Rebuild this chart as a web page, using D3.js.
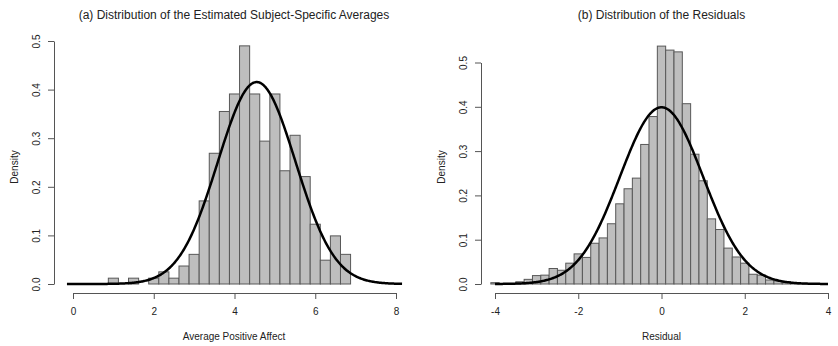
<!DOCTYPE html>
<html>
<head>
<meta charset="utf-8">
<script src="https://cdn.jsdelivr.net/npm/d3@7"></script>
<style>
  html, body { margin: 0; padding: 0; background: #fff; }
  svg { display: block; font-family: "Liberation Sans", Arial, Helvetica, sans-serif; }
</style>
</head>
<body>
<svg id="chart" width="838" height="346"></svg>
<script>
// ---------- Data ----------
// Panel (a): histogram of subject-specific averages
const leftBreaks = [0.875, 1.125, 1.375, 1.625, 1.875, 2.125, 2.375, 2.625, 2.875, 3.125,
  3.375, 3.625, 3.875, 4.125, 4.375, 4.625, 4.875, 5.125, 5.375, 5.625, 5.875, 6.125,
  6.375, 6.625, 6.875];
const leftDensity = [0.012, 0, 0.012, 0, 0.012, 0.025, 0.012, 0.037, 0.061, 0.171,
  0.269, 0.355, 0.391, 0.490, 0.391, 0.294, 0.391, 0.233, 0.306, 0.221, 0.123,
  0.049, 0.099, 0.061];
const leftNormal = { mean: 4.55, sd: 0.96 };
const leftCurveRange = [-0.15, 8.15];
const leftXTicks = [0, 2, 4, 6, 8];
const leftXTickLabels = ["0", "2", "4", "6", "8"];
const leftYTicks = [0.0, 0.1, 0.2, 0.3, 0.4, 0.5];
const leftYTickLabels = ["0.0", "0.1", "0.2", "0.3", "0.4", "0.5"];
const leftTitle = "(a) Distribution of the Estimated Subject-Specific Averages";
const leftXLabel = "Average Positive Affect";

// Panel (b): histogram of residuals
const rightBreaks = [-4.1, -3.9, -3.7, -3.5, -3.3, -3.1, -2.9, -2.7, -2.5, -2.3, -2.1,
  -1.9, -1.7, -1.5, -1.3, -1.1, -0.9, -0.7, -0.5, -0.3, -0.1, 0.1, 0.3, 0.5, 0.7,
  0.9, 1.1, 1.3, 1.5, 1.7, 1.9, 2.1, 2.3, 2.5, 2.7, 2.9, 3.1, 3.3, 3.5];
const rightDensity = [0.003, 0, 0, 0.005, 0.0105, 0.019, 0.020, 0.035, 0.031, 0.047,
  0.068, 0.060, 0.092, 0.104, 0.136, 0.181, 0.215, 0.239, 0.315, 0.378, 0.537,
  0.528, 0.524, 0.407, 0.293, 0.233, 0.147, 0.123, 0.081, 0.061, 0.047, 0.022,
  0.020, 0.009, 0.007, 0.005, 0.002, 0.001];
const rightNormal = { mean: 0, sd: 1 };
const rightCurveRange = [-4, 4];
const rightXTicks = [-4, -2, 0, 2, 4];
const rightXTickLabels = ["-4", "-2", "0", "2", "4"];
const rightYTicks = [0.0, 0.1, 0.2, 0.3, 0.4, 0.5];
const rightYTickLabels = ["0.0", "0.1", "0.2", "0.3", "0.4", "0.5"];
const rightTitle = "(b) Distribution of the Residuals";
const rightXLabel = "Residual";
const yLabel = "Density";

// ---------- Drawing ----------
const svg = d3.select("#chart");
const axisColor = "#555";
const textColor = "#222";

function dnorm(x, m, s) {
  const z = (x - m) / s;
  return Math.exp(-0.5 * z * z) / (s * Math.sqrt(2 * Math.PI));
}

function panel(cfg) {
  const g = svg.append("g");
  const x = d3.scaleLinear().domain(cfg.xDomain).range(cfg.xRange);
  const y = d3.scaleLinear().domain([0, 0.5]).range([cfg.yBase, cfg.yTop]);

  // bars
  const bins = cfg.density.map((d, i) => ({ x0: cfg.breaks[i], x1: cfg.breaks[i + 1], d }));
  g.append("g").selectAll("rect").data(bins).join("rect")
    .attr("x", b => x(b.x0))
    .attr("y", b => y(b.d))
    .attr("width", b => x(b.x1) - x(b.x0))
    .attr("height", b => y(0) - y(b.d))
    .attr("fill", "#bebebe")
    .attr("stroke", "#585858")
    .attr("stroke-width", 1);

  // normal curve
  const n = 400;
  const pts = d3.range(n + 1).map(i => {
    const xv = cfg.curveRange[0] + (cfg.curveRange[1] - cfg.curveRange[0]) * i / n;
    return [xv, dnorm(xv, cfg.normal.mean, cfg.normal.sd)];
  });
  g.append("path")
    .attr("d", d3.line().x(p => x(p[0])).y(p => y(p[1]))(pts))
    .attr("fill", "none")
    .attr("stroke", "#000")
    .attr("stroke-width", 2.5);

  // x axis
  const xAxis = g.append("g")
    .attr("transform", `translate(0,${cfg.xAxisY})`)
    .call(d3.axisBottom(x).tickValues(cfg.xTicks).tickSize(6).tickSizeOuter(0).tickPadding(9)
      .tickFormat((d, i) => cfg.xTickLabels[i]));
  xAxis.select(".domain").attr("stroke", axisColor);
  xAxis.selectAll(".tick line").attr("stroke", axisColor);
  xAxis.selectAll(".tick text").attr("fill", textColor).style("font-size", "10px")
    .style("font-family", "'Liberation Sans', Arial, sans-serif");

  // y axis
  const yAxis = g.append("g")
    .attr("transform", `translate(${cfg.yAxisX},0)`)
    .call(d3.axisLeft(y).tickValues(cfg.yTicks).tickSize(6).tickSizeOuter(0)
      .tickFormat((d, i) => cfg.yTickLabels[i]));
  yAxis.select(".domain").attr("stroke", axisColor);
  yAxis.selectAll(".tick line").attr("stroke", axisColor);
  yAxis.selectAll(".tick text")
    .attr("transform", "rotate(-90)")
    .attr("x", 0).attr("y", -18).attr("dy", "0.35em")
    .attr("text-anchor", "middle")
    .attr("fill", textColor).style("font-size", "10px")
    .style("font-family", "'Liberation Sans', Arial, sans-serif");

  // title
  g.append("text")
    .attr("x", cfg.titleX).attr("y", 18.5)
    .attr("text-anchor", "middle")
    .attr("fill", textColor)
    .style("font-size", "12px")
    .text(cfg.title);

  // x label
  g.append("text")
    .attr("x", cfg.titleX).attr("y", 339.5)
    .attr("text-anchor", "middle")
    .attr("fill", textColor)
    .style("font-size", "10px")
    .text(cfg.xLabel);

  // y label
  g.append("text")
    .attr("transform", `translate(${cfg.yLabelX},167) rotate(-90)`)
    .attr("dy", "0.35em")
    .attr("text-anchor", "middle")
    .attr("fill", textColor)
    .style("font-size", "10px")
    .text(yLabel);
}

panel({
  breaks: leftBreaks, density: leftDensity, normal: leftNormal, curveRange: leftCurveRange,
  xTicks: leftXTicks, xTickLabels: leftXTickLabels, yTicks: leftYTicks, yTickLabels: leftYTickLabels,
  title: leftTitle, xLabel: leftXLabel,
  xDomain: [0, 8], xRange: [73, 396], yBase: 284, yTop: 41,
  xAxisY: 293, yAxisX: 54, titleX: 234, yLabelX: 14
});

panel({
  breaks: rightBreaks, density: rightDensity, normal: rightNormal, curveRange: rightCurveRange,
  xTicks: rightXTicks, xTickLabels: rightXTickLabels, yTicks: rightYTicks, yTickLabels: rightYTickLabels,
  title: rightTitle, xLabel: rightXLabel,
  xDomain: [-4, 4], xRange: [495, 828], yBase: 284, yTop: 62.5,
  xAxisY: 293, yAxisX: 481, titleX: 661.5, yLabelX: 441
});
</script>
</body>
</html>
